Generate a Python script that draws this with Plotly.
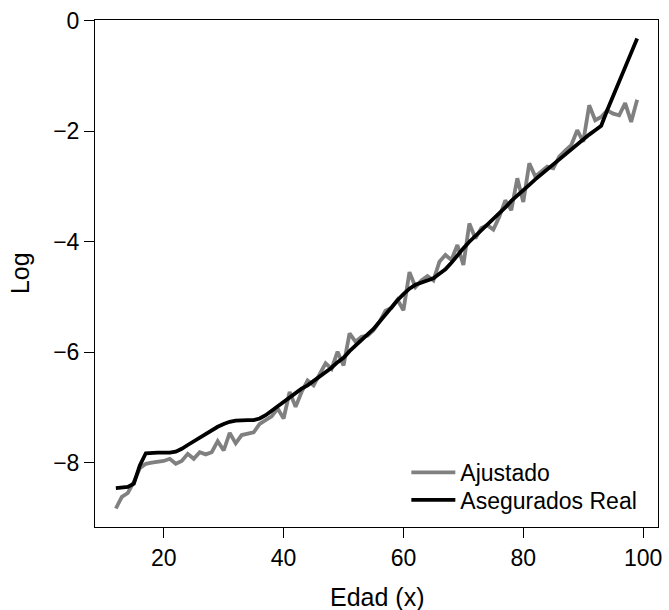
import plotly.graph_objects as go

edad = list(range(12, 100))

ajustado = [
    -8.83, -8.62, -8.55, -8.35, -8.10, -8.02, -8.00, -7.99, -7.97, -7.93,  # 12-21
    -8.02, -7.97, -7.84, -7.93, -7.81, -7.85, -7.81, -7.61, -7.78, -7.46,  # 22-31
    -7.65, -7.50, -7.48, -7.45, -7.30, -7.22, -7.16, -7.02, -7.20, -6.72,  # 32-41
    -6.99, -6.72, -6.51, -6.60, -6.40, -6.20, -6.30, -5.99, -6.24, -5.66,  # 42-51
    -5.81, -5.72, -5.70, -5.60, -5.45, -5.25, -5.20, -5.05, -5.24, -4.55,  # 52-61
    -4.82, -4.70, -4.62, -4.70, -4.36, -4.24, -4.33, -4.06, -4.42, -3.67,  # 62-71
    -3.94, -3.75, -3.70, -3.78, -3.55, -3.25, -3.43, -2.85, -3.28, -2.58,  # 72-81
    -2.82, -2.72, -2.64, -2.67, -2.46, -2.35, -2.25, -1.98, -2.19, -1.53,  # 82-91
    -1.80, -1.74, -1.62, -1.68, -1.71, -1.49, -1.83, -1.43,                # 92-99
]

asegurados_real = [
    -8.46, -8.45, -8.44, -8.38, -8.05, -7.83, -7.82, -7.82, -7.82, -7.82,  # 12-21
    -7.80, -7.75, -7.68, -7.61, -7.54, -7.47, -7.41, -7.35, -7.30, -7.26,  # 22-31
    -7.24, -7.23, -7.23, -7.23, -7.20, -7.14, -7.06, -6.98, -6.90, -6.80,  # 32-41
    -6.74, -6.66, -6.60, -6.52, -6.44, -6.38, -6.28, -6.18, -6.10, -5.98,  # 42-51
    -5.88, -5.78, -5.68, -5.58, -5.45, -5.32, -5.18, -5.06, -4.95, -4.85,  # 52-61
    -4.78, -4.74, -4.70, -4.66, -4.58, -4.50, -4.38, -4.24, -4.12, -4.00,  # 62-71
    -3.90, -3.78, -3.68, -3.58, -3.48, -3.38, -3.26, -3.17, -3.07, -2.97,  # 72-81
    -2.87, -2.78, -2.68, -2.58, -2.49, -2.40, -2.31, -2.22, -2.14, -2.06,  # 82-91
    -1.98, -1.90, -1.62, -1.35, -1.10, -0.84, -0.58, -0.32,                # 92-99
]

x_ticks = [20, 40, 60, 80, 100]
y_ticks = [0, -2, -4, -6, -8]
y_tick_text = ["0", "\u22122", "\u22124", "\u22126", "\u22128"]

FONT = "Liberation Sans, Arial, Helvetica, sans-serif"

fig = go.Figure()
fig.add_trace(go.Scatter(x=edad, y=ajustado, mode="lines", name="Ajustado",
                         line=dict(color="#808080", width=3.8), legend="legend"))
fig.add_trace(go.Scatter(x=edad, y=asegurados_real, mode="lines", name="Asegurados Real",
                         line=dict(color="#000000", width=3.8), legend="legend2"))

leg_common = dict(xanchor="left", yanchor="top", bgcolor="rgba(0,0,0,0)",
                  borderwidth=0, font=dict(size=23), itemwidth=44)

fig.update_layout(
    width=669, height=610,
    margin=dict(l=95, r=7, t=20, b=83),
    paper_bgcolor="white", plot_bgcolor="white",
    font=dict(family=FONT, size=23, color="black"),
    showlegend=True,
    legend=dict(x=0.553, y=0.150, **leg_common),
    legend2=dict(x=0.553, y=0.096, **leg_common),
    xaxis=dict(range=[8.52, 102.48], tickvals=x_ticks, ticks="outside", ticklen=10,
               tickcolor="black", showline=True, linecolor="black", linewidth=1,
               mirror=True, showgrid=False, zeroline=False,
               tickfont=dict(size=23)),
    yaxis=dict(range=[-9.165, 0.015], tickvals=y_ticks, ticktext=y_tick_text,
               ticks="outside", ticklen=10, tickcolor="black", showline=True,
               linecolor="black", linewidth=1, mirror=True, showgrid=False,
               zeroline=False, tickfont=dict(size=23)),
    annotations=[
        dict(text="Edad (x)", xref="paper", yref="paper", x=0.5, y=-0.138,
             showarrow=False, font=dict(size=25), xanchor="center", yanchor="middle"),
        dict(text="Log", xref="paper", yref="paper", x=-0.134, y=0.5,
             showarrow=False, font=dict(size=25), textangle=-90,
             xanchor="center", yanchor="middle"),
    ],
)

fig.write_html("out.html")
